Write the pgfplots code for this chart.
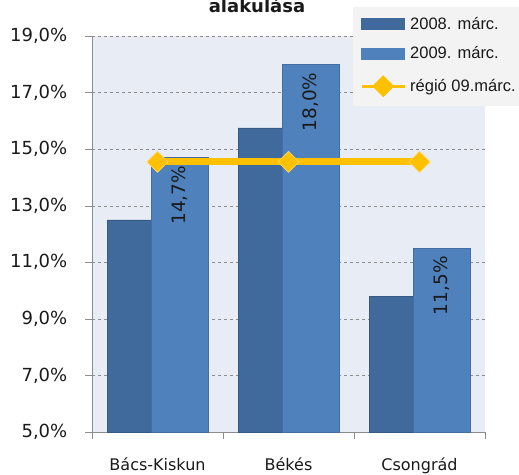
\documentclass[border=0pt]{standalone}
\usepackage{fontspec}
\setmainfont{DejaVu Sans}
\newfontfamily\legfont{Liberation Sans}
\usepackage{pgfplots}
\pgfplotsset{compat=1.18}
\definecolor{darkbar}{HTML}{40699C}
\definecolor{lightbar}{HTML}{4F81BD}
\definecolor{plotbg}{HTML}{E8ECF4}
\definecolor{regio}{HTML}{FFC000}
\definecolor{gridc}{HTML}{8C8C8C}
\definecolor{legbg}{HTML}{F3F3F3}
\definecolor{txt}{HTML}{1A1A1A}
\begin{document}
\begin{tikzpicture}[x=1pt,y=1pt]
\useasboundingbox (0,0) rectangle (519,474);
\begin{axis}[
  at={(92pt,42pt)}, anchor=south west,
  scale only axis, width=393pt, height=396pt,
  xmin=-0.5, xmax=2.5, ymin=5, ymax=19,
  axis background/.style={fill=plotbg},
  axis x line*=bottom, axis y line*=left,
  axis line style={draw=gridc, -},
  ytick={5,7,...,19},
  yticklabels={{5,0\%},{7,0\%},{9,0\%},{11,0\%},{13,0\%},{15,0\%},{17,0\%},{19,0\%}},
  yticklabel style={font=\fontsize{18}{18}\selectfont, text=txt, anchor=east, inner sep=0pt, xshift=-18pt},
  xtick={-0.5,0.5,1.5,2.5},
  xticklabels={,,,},
  extra x ticks={0,1,2},
  extra x tick labels={Bács-Kiskun,Békés,Csongrád},
  extra x tick style={major tick length=0pt, grid=none,
     tick label style={font=\fontsize{16}{16}\selectfont, text=txt, anchor=north, inner sep=0pt, yshift=-26pt}},
  tick align=outside, major tick length=6.5pt,
  tick style={draw=gridc, thin},
  ymajorgrids, major grid style={dashed, draw=gridc, thin},
  legend style={at={(0.6641,1.0733)}, anchor=north west, fill=legbg, draw=none,
    font=\legfont\fontsize{16.5}{16.5}\selectfont, text=txt, inner xsep=5pt},
  legend cell align=left,
  clip=false,
]
\addplot[ybar, bar width=57pt, bar shift=-22pt, fill=darkbar, draw=darkbar!85!black, line width=0.5pt,
  legend image code/.code={\fill[legbg] (0pt,-14.5pt) rectangle (43pt,14.5pt); \fill[darkbar] (0pt,-5.5pt) rectangle (43pt,5.5pt);}]
  coordinates {(0,12.5) (1,15.75) (2,9.8)};
\addlegendentry{2008. márc.}
\addplot[ybar, bar width=57pt, bar shift=22pt, fill=lightbar, draw=lightbar!85!black, line width=0.5pt,
  legend image code/.code={\fill[legbg] (0pt,-14.5pt) rectangle (43pt,14.5pt); \fill[lightbar] (0pt,-5.5pt) rectangle (43pt,5.5pt);}]
  coordinates {(0,14.7) (1,18.0) (2,11.5)};
\addlegendentry{2009. márc.}
\addplot[regio, line width=7pt, mark=square*, mark size=7.4pt,
  mark options={rotate=45, fill=regio, draw=regio!60!white, line width=0.8pt},
  legend image code/.code={\fill[legbg] (0pt,-14.5pt) rectangle (43pt,14.5pt);
     \draw[regio, line width=3pt] (0pt,0pt) -- (43pt,0pt);
     \fill[regio] (15.5pt,0pt) -- (21.5pt,6pt) -- (27.5pt,0pt) -- (21.5pt,-6pt) -- cycle;}]
  coordinates {(0,14.55) (1,14.55) (2,14.55)};
\addlegendentry{régió 09.márc.}
\node[font=\fontsize{18.5}{18.5}\selectfont, text=txt, rotate=90, anchor=east, inner sep=0pt] at ([xshift=22pt,yshift=-8pt]axis cs:0,14.7) {14,7\%};
\node[font=\fontsize{18.5}{18.5}\selectfont, text=txt, rotate=90, anchor=east, inner sep=0pt] at ([xshift=22pt,yshift=-8pt]axis cs:1,18.0) {18,0\%};
\node[font=\fontsize{18.5}{18.5}\selectfont, text=txt, rotate=90, anchor=east, inner sep=0pt] at ([xshift=22pt,yshift=-8pt]axis cs:2,11.5) {11,5\%};
\end{axis}
\node[font=\bfseries\fontsize{18}{18}\selectfont, text=txt, anchor=base] at (257,461) {alakulása};
\end{tikzpicture}
\end{document}
